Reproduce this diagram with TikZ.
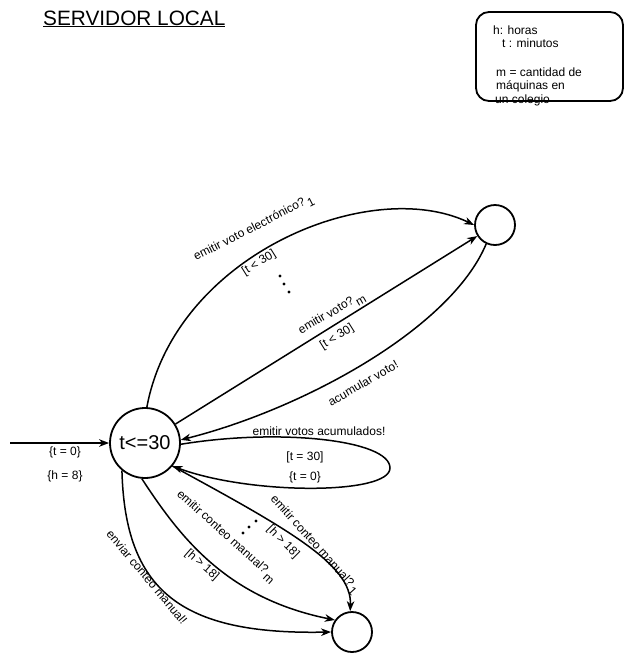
\documentclass[tikz,border=0pt]{standalone}
\usepackage{fontspec}
\setmainfont{Liberation Sans}
\usetikzlibrary{arrows.meta}
\begin{document}
\begin{tikzpicture}[x=1pt,y=-1pt,
  state/.style={circle,draw,line width=1.8pt,minimum size=40pt,inner sep=0pt},
  edge/.style={line width=1.5pt,-{Stealth[length=10pt,width=7.5pt,inset=3pt]}},
  lbl/.style={font=\fontsize{12}{14}\selectfont,inner sep=0pt},
  dotm/.style={circle,fill,inner sep=0pt,minimum size=3.4pt}]
\useasboundingbox (0,0) rectangle (625,654);
% title
\node[anchor=base west,inner sep=0pt,font=\fontsize{20.8}{24}\selectfont] (title) at (43,25) {\underline{SERVIDOR LOCAL}};
% legend box
\node[draw,rounded corners=13pt,line width=1.8pt,minimum width=147pt,minimum height=89pt,inner sep=0pt] (legend) at (549.5,56.5) {};
\node[lbl,anchor=base west] (l1) at (493,34) {h: horas};
\node[lbl,anchor=base west] (l2) at (502,47.5) {t : minutos};
\node[lbl,anchor=base west] (l3) at (496,76) {m = cantidad de};
\node[lbl,anchor=base west] (l4) at (496,89.5) {máquinas en};
\node[lbl,anchor=base west] (l5) at (495,103) {un colegio};
% states
\node[state,minimum size=70pt] (main) at (145,443) {\fontsize{20}{24}\selectfont t<=30};
\node[state] (tr) at (495,225) {};
\node[state] (bot) at (352,632) {};
% initial
\coordinate (start) at (10,443);
\draw[edge] (start) -- (main);
\node[lbl] (i1) at (65,452) {\{t = 0\}};
\node[lbl] (i2) at (65,476) {\{h = 8\}};
% upper edges
\draw[edge] (main.87) .. controls (175,255) and (370,175) .. (tr.west);
\node[lbl,rotate=27] (e1) at (254,229) {emitir voto electrónico?\,\raisebox{-4.5pt}{1}};
\node[lbl,rotate=32] (g1) at (259,263) {[t < 30]};
\node[dotm] (d1) at (280,276) {};
\node[dotm] (d2) at (284,284) {};
\node[dotm] (d3) at (289,292) {};
\draw[edge] (main) -- (tr);
\node[lbl,rotate=30] (e2) at (332,314) {emitir voto?\,\raisebox{-4.5pt}{m}};
\node[lbl,rotate=32] (g2) at (337,337) {[t < 30]};
\draw[edge] (tr.-115) .. controls (450,330) and (300,410) .. (main.5);
\node[lbl,rotate=30] (e3) at (363,383) {acumular voto!};
% self loop
\draw[edge] (main.-2) .. controls (280,428) and (390,440) .. (390,468) .. controls (390,495) and (250,495) .. (main.-40);
\node[lbl] (e4) at (319,431) {emitir votos acumulados!};
\node[lbl] (g4) at (305,457) {[t = 30]};
\node[lbl] (a4) at (305,477) {\{t = 0\}};
% lower edges
\draw[edge] (main.-40) .. controls (290,530) and (352,565) .. (bot.95);
\node[lbl,rotate=-48] (e5) at (314,545) {emitir conteo manual?\,\raisebox{-4.5pt}{1}};
\node[lbl,rotate=-45] (g5) at (283,542) {[h > 18]};
\draw[edge] (main.-95) .. controls (180,537) and (226,598) .. (bot.145);
\node[lbl,rotate=-42] (e6) at (226,537) {emitir conteo manual?\,\raisebox{-4.5pt}{m}};
\node[lbl,rotate=-41] (g6) at (202,565) {[h > 18]};
\node[dotm] (d4) at (243,533) {};
\node[dotm] (d5) at (249,527) {};
\node[dotm] (d6) at (256,521) {};
\draw[edge] (main.-130) .. controls (125,590) and (180,635) .. (bot.west);
\node[lbl,rotate=-50] (e7) at (147,577) {enviar conteo manual!};
\end{tikzpicture}
\end{document}
